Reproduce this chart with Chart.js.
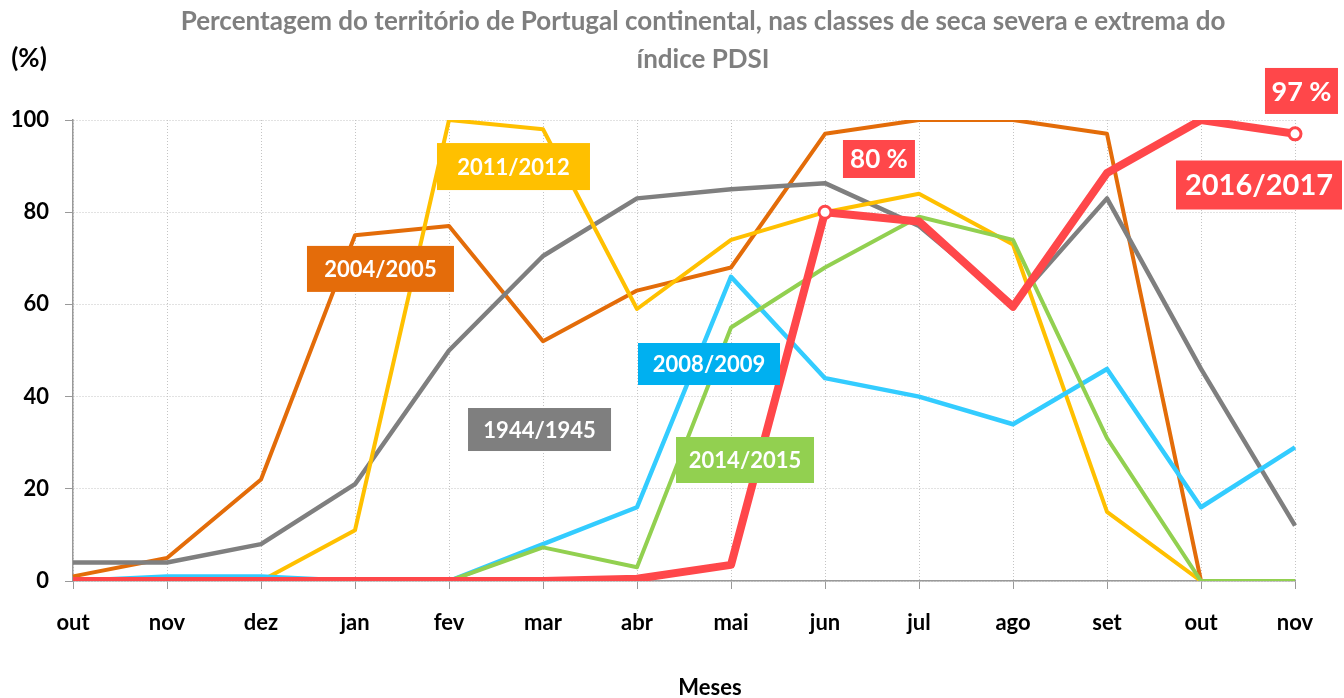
<!DOCTYPE html>
<html><head><meta charset="utf-8">
<script src="https://cdn.jsdelivr.net/npm/chart.js@4"></script>
<style>html,body{margin:0;padding:0;background:#fff}canvas{display:block}</style>
</head><body>
<canvas id="c" width="1344" height="698"></canvas>
<script>
// ---- data ----
const months = ['out','nov','dez','jan','fev','mar','abr','mai','jun','jul','ago','set','out','nov'];
const yTicks = [0, 20, 40, 60, 80, 100];
const s1944 = [4, 4, 8, 21, 50, 70.5, 83, 85, 86.3, 77, 60, 83, 46, 12];
const s2004 = [1, 5, 22, 75, 77, 52, 63, 68, 97, 100, 100, 97, 0, 0];
const s2008 = [0, 1, 1, 0, 0, 8, 16, 66, 44, 40, 34, 46, 16, 29];
const s2011 = [0, 0, 0, 11, 100, 98, 59, 74, 80, 84, 73, 15, 0, 0];
const s2014 = [0, 0, 0, 0, 0, 7.3, 3, 55, 68, 79, 74, 31, 0, 0];
const s2016 = [0, 0, 0, 0, 0, 0, 0.5, 3.5, 80, 78, 59.5, 88.5, 100, 97];
const seriesNames = ['1944/1945', '2004/2005', '2008/2009', '2011/2012', '2014/2015', '2016/2017'];
const highlightIdx = [8, 13];
const highlightText = ['80 %', '97 %'];
const titleLines = ['Percentagem do território de Portugal continental, nas classes de seca severa e extrema do', 'índice PDSI'];
const yTitle = '(%)';
const xTitle = 'Meses';

// ---- styles ----
const lineColors = ['#7F7F7F', '#E36C09', '#33CCFF', '#FFC000', '#92D050', '#FF474A'];
const boxColors  = ['#7F7F7F', '#E46C0A', '#00B0F0', '#FFC000', '#92D050', '#FF474A'];
const FONT = 'Lato, "Open Sans", sans-serif';

const seriesData = [s1944, s2004, s2008, s2011, s2014, s2016];
const drawOrder = [4, 5, 2, 3, 1, 0];
const widths = [4.5, 4, 4.5, 4, 4, 8];

const datasets = seriesData.map((d, i) => ({
  label: seriesNames[i],
  data: d,
  borderColor: lineColors[i],
  backgroundColor: lineColors[i],
  borderWidth: widths[i],
  tension: 0,
  fill: false,
  order: drawOrder[i],
  borderJoinStyle: 'round',
  pointRadius: i === 5 ? (c => highlightIdx.includes(c.dataIndex) ? 6 : 0) : 0,
  pointBackgroundColor: '#fff',
  pointBorderColor: lineColors[i],
  pointBorderWidth: 3,
  pointHoverRadius: 0
}));

// annotation boxes positioned in data units (category index, value)
const labelBoxes = [
  {text: seriesNames[3], xi: 4.686, v: 89.9, w: 153, h: 47, size: 22, color: boxColors[3]},
  {text: seriesNames[1], xi: 3.271, v: 67.7, w: 147, h: 46, size: 22, color: boxColors[1]},
  {text: seriesNames[2], xi: 6.766, v: 47.07, w: 142, h: 42, size: 22, color: boxColors[2]},
  {text: seriesNames[0], xi: 4.963, v: 32.86, w: 143, h: 43, size: 22, color: boxColors[0]},
  {text: seriesNames[4], xi: 7.149, v: 26.25, w: 138, h: 46, size: 22, color: boxColors[4]},
  {text: highlightText[0], xi: 8.574, v: 91.54, w: 72, h: 38, size: 26, color: boxColors[5]},
  {text: highlightText[1], xi: 13.069, v: 106.3, w: 73, h: 46, size: 27, color: boxColors[5]},
  {text: seriesNames[5], xi: 12.617, v: 85.9, w: 166, h: 49, size: 29, color: boxColors[5]}
];

const annot = {
  id: 'annot',
  afterDatasetsDraw(chart) {
    const ctx = chart.ctx;
    const xs = chart.scales.x, ys = chart.scales.y;
    ctx.save();
    labelBoxes.forEach(b => {
      const cx = xs.getPixelForValue(b.xi), cy = ys.getPixelForValue(b.v);
      ctx.fillStyle = b.color;
      ctx.fillRect(cx - b.w / 2, cy - b.h / 2, b.w, b.h);
      ctx.fillStyle = '#fff';
      ctx.font = 'bold ' + b.size + 'px ' + FONT;
      ctx.textAlign = 'center';
      ctx.textBaseline = 'middle';
      ctx.fillText(b.text, cx, cy + 1);
    });
    ctx.restore();
  },
  afterDraw(chart) {
    const ctx = chart.ctx;
    ctx.save();
    ctx.textAlign = 'center';
    ctx.textBaseline = 'middle';
    ctx.fillStyle = '#7F7F7F';
    ctx.font = 'bold 26px ' + FONT;
    ctx.fillText(titleLines[0], 703, 22);
    ctx.fillText(titleLines[1], 703, 60);
    ctx.fillStyle = '#000';
    ctx.font = 'bold 26px ' + FONT;
    ctx.fillText(yTitle, 29, 59);
    ctx.font = 'bold 22px ' + FONT;
    ctx.fillText(xTitle, 710, 688);
    ctx.restore();
  }
};

new Chart(document.getElementById('c').getContext('2d'), {
  type: 'line',
  data: {labels: months, datasets},
  options: {
    responsive: false,
    animation: false,
    events: [],
    layout: {padding: {left: 0, right: 49, top: 120, bottom: 0}},
    plugins: {legend: {display: false}, tooltip: {enabled: false}, title: {display: false}},
    scales: {
      x: {
        offset: false,
        grid: {color: '#C4C4C4', lineWidth: 1, tickLength: 8, tickColor: '#999', borderDash: [1, 2], tickBorderDash: []},
        border: {color: '#999', width: 1.5, dash: [1, 2]},
        ticks: {color: '#000', font: {family: FONT, weight: 'bold', size: 22}, padding: 21, autoSkip: false, maxRotation: 0},
        afterFit(s) { s.height = 117; }
      },
      y: {
        min: 0, max: 100,
        afterBuildTicks(s) { s.ticks = yTicks.map(v => ({value: v})); },
        grid: {color: '#C4C4C4', lineWidth: 1, tickLength: 8, tickColor: '#999', borderDash: [1, 2], tickBorderDash: []},
        border: {color: '#999', width: 1.5, dash: [1, 2]},
        ticks: {color: '#000', font: {family: FONT, weight: 'bold', size: 22}, padding: 16},
        afterFit(s) { s.width = 73; }
      }
    }
  },
  plugins: [annot]
});
</script>
</body></html>
